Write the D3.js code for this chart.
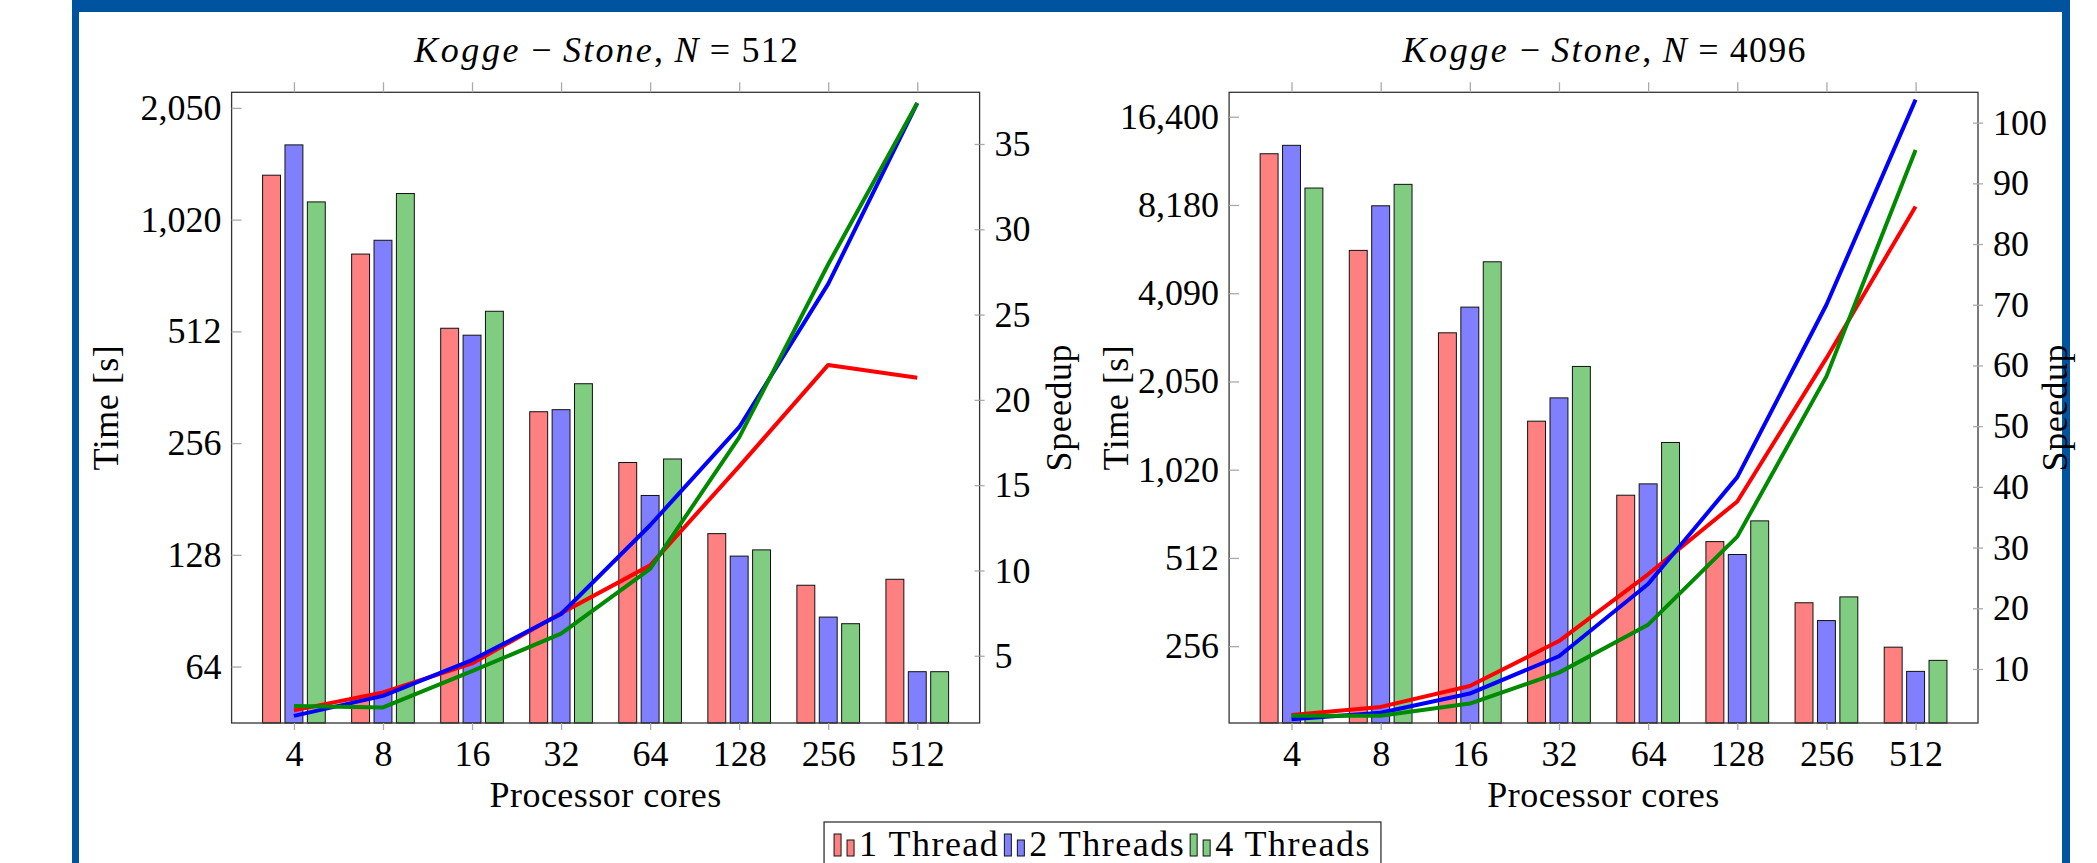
<!DOCTYPE html>
<html>
<head>
<meta charset="utf-8">
<script src="https://cdn.jsdelivr.net/npm/d3@7"></script>
<style>
body { margin: 0; background: #fff; }
svg { display: block; }
text { font-family: "Liberation Serif", "DejaVu Serif", serif; }
</style>
</head>
<body>
<svg id="chart" width="2097" height="863"></svg>
<script>
// categories and series
var cores = ["4", "8", "16", "32", "64", "128", "256", "512"];
var seriesNames = ["1 Thread", "2 Threads", "4 Threads"];

// N = 512
var time512_t1 = [1349, 827, 522, 311, 227, 146, 106, 110];
var time512_t2 = [1628, 901, 500, 315, 185, 127, 87, 62];
var time512_t4 = [1143, 1204, 580, 370, 232, 132, 83.5, 62];
var speedup512_t1 = [1.8, 2.85, 4.55, 7.5, 10.3, 16.1, 22.05, 21.3];
var speedup512_t2 = [1.48, 2.65, 4.75, 7.45, 12.65, 18.4, 26.8, 37.4];
var speedup512_t4 = [2.05, 1.97, 4.1, 6.3, 10.1, 17.8, 27.95, 37.4];

// N = 4096
var time4096_t1 = [12250, 5734, 3001, 1499, 838, 582, 360, 254];
var time4096_t2 = [13087, 8140, 3672, 1800, 916, 526, 313, 210];
var time4096_t4 = [9357, 9632, 5243, 2304, 1268, 685, 377, 229];
var speedup4096_t1 = [2.4, 3.75, 7.2, 14.6, 25.6, 37.6, 61.2, 86.2];
var speedup4096_t2 = [1.7, 2.8, 5.95, 12.1, 24.0, 41.6, 70.0, 103.8];
var speedup4096_t4 = [2.3, 2.3, 4.3, 9.4, 17.3, 31.8, 58.2, 95.5];

// tick values and labels
var timeTicks512 = [64, 128, 256, 512, 1024, 2048];
var timeTickLabels512 = ["64", "128", "256", "512", "1,020", "2,050"];
var timeTicks4096 = [256, 512, 1024, 2048, 4096, 8192, 16384];
var timeTickLabels4096 = ["256", "512", "1,020", "2,050", "4,090", "8,180", "16,400"];
var speedTicks512 = [5, 10, 15, 20, 25, 30, 35];
var speedTicks4096 = [10, 20, 30, 40, 50, 60, 70, 80, 90, 100];

var barFill = ["#ff8080", "#8080ff", "#80cc80"];
var lineColor = ["#ff0000", "#0000ff", "#008a00"];
var fontSize = 36;

var top_ = 92.3, bottom = 723;

var svg = d3.select("#chart");

// blue page border
svg.append("rect").attr("x", 72).attr("y", 0).attr("width", 1998).attr("height", 12).attr("fill", "#00549f");
svg.append("rect").attr("x", 72).attr("y", 0).attr("width", 7).attr("height", 863).attr("fill", "#00549f");
svg.append("rect").attr("x", 2062).attr("y", 0).attr("width", 8).attr("height", 863).attr("fill", "#00549f");

function styleTicks(a) {
    a.select(".domain").remove();
    a.selectAll(".tick line").attr("stroke", "#aaa").attr("stroke-width", 1.3);
}

function drawPanel(p) {
    var g = svg.append("g");
    var x = d3.scalePoint().domain(cores).range([p.left, p.right]).padding(0.7);
    var y = d3.scaleLog().base(2).domain(p.timeDomain).range([bottom, top_]);
    var y2 = d3.scaleLinear().domain(p.speedDomain).range([bottom, top_]);
    var step = x.step();
    var x1 = d3.scaleBand().domain(seriesNames).range([-0.377 * step, 0.377 * step]).paddingInner(0.2).paddingOuter(0.1);

    // bars
    p.times.forEach(function(vals, si) {
        g.selectAll(null).data(vals).enter().append("rect")
            .attr("x", (d, i) => x(cores[i]) + x1(seriesNames[si]))
            .attr("y", d => y(d))
            .attr("width", x1.bandwidth())
            .attr("height", d => bottom - y(d))
            .attr("fill", barFill[si])
            .attr("stroke", "#111")
            .attr("stroke-width", 1);
    });

    // frame
    g.append("rect").attr("x", p.left).attr("y", top_).attr("width", p.right - p.left).attr("height", bottom - top_)
        .attr("fill", "none").attr("stroke", "#333").attr("stroke-width", 1.3);

    // x axes
    g.append("g").attr("transform", "translate(0," + bottom + ")")
        .call(d3.axisBottom(x).tickSizeInner(7).tickSizeOuter(0).tickPadding(10))
        .attr("font-size", fontSize).attr("font-family", null)
        .call(styleTicks);
    g.append("g").attr("transform", "translate(0," + top_ + ")")
        .call(d3.axisTop(x).tickSizeInner(10).tickSizeOuter(0).tickFormat(""))
        .call(styleTicks);

    // time axis (left, log2)
    g.append("g").attr("transform", "translate(" + p.left + ",0)")
        .call(d3.axisLeft(y).tickValues(p.timeTicks).tickFormat((d, i) => p.timeLabels[i])
            .tickSizeInner(-10).tickSizeOuter(0).tickPadding(10))
        .attr("font-size", fontSize).attr("font-family", null)
        .call(styleTicks);

    // speedup axis (right)
    g.append("g").attr("transform", "translate(" + p.right + ",0)")
        .call(d3.axisRight(y2).tickValues(p.speedTicks).tickSizeInner(5).tickSizeOuter(0).tickPadding(10))
        .attr("font-size", fontSize).attr("font-family", null)
        .call(styleTicks);
    g.append("g").attr("transform", "translate(" + p.right + ",0)")
        .call(d3.axisRight(y2).tickValues(p.speedTicks).tickSizeInner(-5).tickSizeOuter(0).tickFormat(""))
        .call(styleTicks);

    // speedup lines
    var line = d3.line().x((d, i) => x(cores[i])).y(d => y2(d));
    p.speedups.forEach(function(vals, si) {
        g.append("path").datum(vals).attr("d", line)
            .attr("fill", "none").attr("stroke", lineColor[si])
            .attr("stroke-width", 4).attr("stroke-linejoin", "round");
    });

    var cx = (p.left + p.right) / 2, cy = (top_ + bottom) / 2;

    // title
    var t = g.append("text").attr("x", cx + 1).attr("y", 61.7).attr("text-anchor", "middle")
        .attr("font-size", fontSize).attr("letter-spacing", 1.2);
    t.append("tspan").attr("font-style", "italic").attr("letter-spacing", 2.6).text("Kogge");
    t.append("tspan").text(" \u2212 ");
    t.append("tspan").attr("font-style", "italic").attr("letter-spacing", 2.2).text("Stone");
    t.append("tspan").text(", ");
    t.append("tspan").attr("font-style", "italic").text("N");
    t.append("tspan").text(" = " + p.n);

    g.append("text").attr("x", cx).attr("y", 807).attr("text-anchor", "middle")
        .attr("font-size", fontSize).attr("letter-spacing", 0.5).text("Processor cores");
    g.append("text").attr("transform", "translate(" + p.timeLabelX + "," + cy + ") rotate(-90)")
        .attr("text-anchor", "middle").attr("font-size", fontSize).attr("letter-spacing", 0.5).text("Time [s]");
    g.append("text").attr("transform", "translate(" + p.speedLabelX + "," + cy + ") rotate(-90)")
        .attr("text-anchor", "middle").attr("font-size", fontSize).attr("letter-spacing", 0.5).text("Speedup");
}

drawPanel({
    n: 512, left: 231.6, right: 979.6,
    timeDomain: [45.1, 2256], speedDomain: [1.06, 38.03],
    timeTicks: timeTicks512, timeLabels: timeTickLabels512, speedTicks: speedTicks512,
    times: [time512_t1, time512_t2, time512_t4],
    speedups: [speedup512_t1, speedup512_t2, speedup512_t4],
    timeLabelX: 118, speedLabelX: 1071
});

drawPanel({
    n: 4096, left: 1229.1, right: 1978,
    timeDomain: [140, 19850], speedDomain: [1.1, 105],
    timeTicks: timeTicks4096, timeLabels: timeTickLabels4096, speedTicks: speedTicks4096,
    times: [time4096_t1, time4096_t2, time4096_t4],
    speedups: [speedup4096_t1, speedup4096_t2, speedup4096_t4],
    timeLabelX: 1128, speedLabelX: 2067
});

// legend
var lg = svg.append("g");
var box = lg.append("rect").attr("y", 822).attr("height", 70).attr("fill", "#fff")
    .attr("stroke", "#333").attr("stroke-width", 1.3);
var lx = 0;
seriesNames.forEach(function(name, si) {
    var it = lg.append("g");
    it.append("rect").attr("x", lx).attr("y", 834).attr("width", 7).attr("height", 22)
        .attr("fill", barFill[si]).attr("stroke", "#111").attr("stroke-width", 1);
    it.append("rect").attr("x", lx + 13).attr("y", 840).attr("width", 7).attr("height", 16)
        .attr("fill", barFill[si]).attr("stroke", "#111").attr("stroke-width", 1);
    var tx = it.append("text").attr("x", lx + 25).attr("y", 856).attr("font-size", fontSize)
        .attr("letter-spacing", 1.5).text(name);
    lx = lx + 25 + tx.node().getComputedTextLength() + 5;
});
var total = lx - 5;
var boxW = total + 20;
var boxX = 1102.5 - boxW / 2;
box.attr("x", boxX).attr("width", boxW);
lg.selectAll("g").attr("transform", "translate(" + (boxX + 10) + ",0)");
</script>
</body>
</html>
